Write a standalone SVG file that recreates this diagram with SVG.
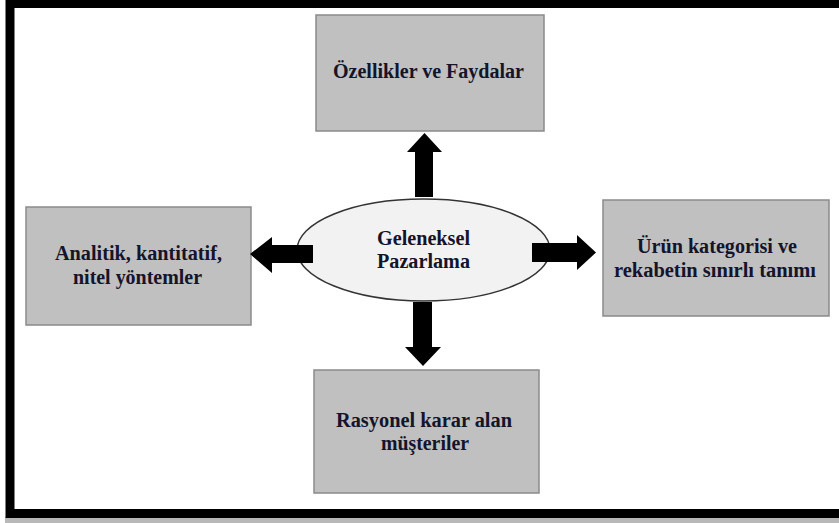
<svg xmlns="http://www.w3.org/2000/svg" width="839" height="523" viewBox="0 0 839 523">
  <style>
    .box { fill: #c0c0c0; stroke: #8a8a8a; stroke-width: 1.5; }
    .hub { fill: #f2f2f2; stroke: #333333; stroke-width: 1.5; }
    .arrow { fill: #000000; }
  </style>

  <!-- page background and frame -->
  <rect x="0" y="0" width="839" height="523" fill="#ffffff"/>
  <rect x="5" y="517" width="834" height="6" fill="#b8b8b8"/>
  <rect x="10" y="3.5" width="840" height="510" fill="none" stroke="#000000" stroke-width="9"/>

  <!-- all labels share one serif bold face -->
  <g font-family="'Liberation Serif', 'DejaVu Serif', 'Times New Roman', serif" font-weight="bold" font-size="20" fill="#14142a" text-anchor="middle">

    <g id="node-center">
      <ellipse class="hub" cx="423.5" cy="250" rx="126.5" ry="51"/>
      <text x="423.5" y="245" textLength="93" lengthAdjust="spacingAndGlyphs">Geleneksel</text>
      <text x="423.5" y="268" textLength="93" lengthAdjust="spacingAndGlyphs">Pazarlama</text>
    </g>

    <g id="node-top">
      <rect class="box" x="316" y="15" width="228" height="116"/>
      <text x="428.5" y="78" textLength="191" lengthAdjust="spacingAndGlyphs">Özellikler ve Faydalar</text>
    </g>

    <g id="node-left">
      <rect class="box" x="26" y="207" width="225" height="118"/>
      <text x="138.5" y="260" textLength="167" lengthAdjust="spacingAndGlyphs">Analitik, kantitatif,</text>
      <text x="137.5" y="284" textLength="129" lengthAdjust="spacingAndGlyphs">nitel yöntemler</text>
    </g>

    <g id="node-right">
      <rect class="box" x="603" y="200" width="226" height="116"/>
      <text x="717" y="253" textLength="160" lengthAdjust="spacingAndGlyphs">Ürün kategorisi ve</text>
      <text x="715" y="277" textLength="202" lengthAdjust="spacingAndGlyphs">rekabetin sınırlı tanımı</text>
    </g>

    <g id="node-bottom">
      <rect class="box" x="314" y="370" width="225" height="123"/>
      <text x="424" y="427" textLength="176" lengthAdjust="spacingAndGlyphs">Rasyonel karar alan</text>
      <text x="425" y="450" textLength="88" lengthAdjust="spacingAndGlyphs">müşteriler</text>
    </g>
  </g>

  <!-- block arrows from the centre outwards -->
  <g id="connectors">
    <polygon class="arrow" points="415,197 415,152 407,152 424.5,133 442,152 433,152 433,197"/>
    <polygon class="arrow" points="413,302 432,302 432,347 441,347 423,366 405,347 413,347"/>
    <polygon class="arrow" points="313,245 313,263 272,263 272,273 250,254 272,237 272,245"/>
    <polygon class="arrow" points="532,243 577,243 577,235 596,252.5 577,270 577,262 532,262"/>
  </g>
</svg>
